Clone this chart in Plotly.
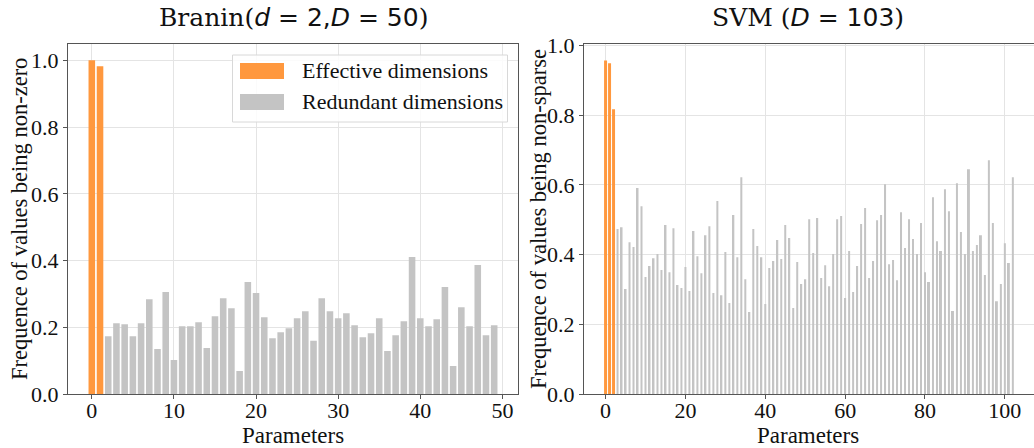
import plotly.graph_objects as go

# ---------------- data ----------------
branin_eff_x = [0, 1]
branin_eff_y = [1.0, 0.982]
branin_red_x = list(range(2, 50))
branin_red_y = [0.174, 0.213, 0.210, 0.174, 0.213, 0.285, 0.136, 0.306, 0.103, 0.204,
                0.204, 0.216, 0.139, 0.234, 0.288, 0.258, 0.070, 0.336, 0.303, 0.231,
                0.168, 0.186, 0.198, 0.228, 0.249, 0.160, 0.288, 0.249, 0.228, 0.243,
                0.207, 0.171, 0.183, 0.228, 0.130, 0.177, 0.219, 0.411, 0.228, 0.204,
                0.225, 0.321, 0.085, 0.261, 0.204, 0.387, 0.177, 0.207]

svm_eff_x = [0, 1, 2]
svm_eff_y = [0.957, 0.949, 0.817]
svm_red_x = list(range(3, 103))
svm_red_y = [0.474, 0.479, 0.302, 0.436, 0.422, 0.591, 0.539, 0.336, 0.368, 0.390,
             0.402, 0.356, 0.485, 0.350, 0.476, 0.313, 0.305, 0.365, 0.296, 0.468,
             0.396, 0.347, 0.456, 0.482, 0.290, 0.554, 0.284, 0.408, 0.262, 0.514,
             0.393, 0.622, 0.330, 0.236, 0.474, 0.425, 0.393, 0.259, 0.362, 0.382,
             0.442, 0.388, 0.485, 0.448, 0.247, 0.379, 0.316, 0.330, 0.502, 0.405,
             0.505, 0.333, 0.370, 0.310, 0.402, 0.502, 0.511, 0.276, 0.411, 0.293,
             0.368, 0.488, 0.534, 0.333, 0.382, 0.499, 0.514, 0.602, 0.373, 0.385,
             0.327, 0.522, 0.419, 0.502, 0.445, 0.402, 0.491, 0.350, 0.322, 0.565,
             0.439, 0.411, 0.588, 0.525, 0.239, 0.605, 0.465, 0.402, 0.645, 0.411,
             0.428, 0.456, 0.342, 0.671, 0.491, 0.267, 0.316, 0.433, 0.376, 0.622]

branin_xticks = [0, 10, 20, 30, 40, 50]
svm_xticks = [0, 20, 40, 60, 80, 100]
yticks = [0.0, 0.2, 0.4, 0.6, 0.8, 1.0]
legend_labels = ["Effective dimensions", "Redundant dimensions"]

ORANGE = "#ff983e"
GRAY = "#c4c4c4"
SERIF = "Liberation Serif"

W, H = 1034, 448
def px(x):
    return x / W
def py(y):
    return 1 - y / H

fig = go.Figure()
fig.add_trace(go.Bar(x=branin_eff_x, y=branin_eff_y, width=0.8, marker_color=ORANGE,
                     marker_line_width=0, xaxis="x", yaxis="y", showlegend=False))
fig.add_trace(go.Bar(x=branin_red_x, y=branin_red_y, width=0.8, marker_color=GRAY,
                     marker_line_width=0, xaxis="x", yaxis="y", showlegend=False))
fig.add_trace(go.Bar(x=svm_eff_x, y=svm_eff_y, width=0.75, marker_color=ORANGE,
                     marker_line_width=0, xaxis="x2", yaxis="y2", showlegend=False))
fig.add_trace(go.Bar(x=svm_red_x, y=svm_red_y, width=0.5, marker_color=GRAY,
                     marker_line_width=0, xaxis="x2", yaxis="y2", showlegend=False))

ydom = [py(394.3), py(44)]
axis_common = dict(showgrid=True, gridcolor="#e4e4e4", gridwidth=1, zeroline=False,
                   showline=True, linecolor="#555555", linewidth=1.3, mirror=True,
                   ticks="outside", ticklen=4, tickcolor="#555555", automargin=False,
                   tickfont=dict(family=SERIF, size=22, color="#111111"))

fig.update_layout(
    template="none",
    width=W, height=H,
    margin=dict(l=0, r=0, t=0, b=0, pad=0),
    paper_bgcolor="white", plot_bgcolor="white",
    barmode="overlay",
    xaxis=dict(domain=[px(68), px(518)], range=[-2.9, 51.9], tickvals=branin_xticks,
               anchor="y", ticklabelstandoff=-8, **axis_common),
    yaxis=dict(domain=ydom, range=[0, 1.049], tickvals=yticks, tickformat=".1f",
               anchor="x", **axis_common),
    xaxis2=dict(domain=[px(584), 1.0], range=[-5.4, 107.3], tickvals=svm_xticks,
                anchor="y2", ticklabelstandoff=-8, **axis_common),
    yaxis2=dict(domain=ydom, range=[0, 1.004], tickvals=yticks, tickformat=".1f",
                anchor="x2", **axis_common),
)

ann = []
# titles
ann.append(dict(x=px(293), y=py(17), xref="paper", yref="paper", showarrow=False,
                xanchor="center", yanchor="middle",
                text='Branin(<span style="font-family:DejaVu Sans"><i>d</i> = 2,<i>D</i> = 50</span>)',
                font=dict(family="DejaVu Serif", size=25, color="#111111")))
ann.append(dict(x=px(808), y=py(17), xref="paper", yref="paper", showarrow=False,
                xanchor="center", yanchor="middle",
                text='SVM (<span style="font-family:DejaVu Sans"><i>D</i> = 103</span>)',
                font=dict(family="DejaVu Serif", size=25, color="#111111")))
# axis labels
for xc in (293, 808):
    ann.append(dict(x=px(xc), y=py(435), xref="paper", yref="paper", showarrow=False,
                    xanchor="center", yanchor="middle", text="Parameters",
                    font=dict(family=SERIF, size=23, color="#111111")))
ann.append(dict(x=px(19), y=py(219), xref="paper", yref="paper", showarrow=False,
                xanchor="center", yanchor="middle", textangle=-90,
                text="Frequence of values being non-zero",
                font=dict(family=SERIF, size=22.5, color="#111111")))
ann.append(dict(x=px(538), y=py(219), xref="paper", yref="paper", showarrow=False,
                xanchor="center", yanchor="middle", textangle=-90,
                text="Frequence of values being non-sparse",
                font=dict(family=SERIF, size=22.5, color="#111111")))
# legend texts
for lab, yc in zip(legend_labels, (71, 102)):
    ann.append(dict(x=px(300), y=py(yc), xref="paper", yref="paper", showarrow=False,
                    xanchor="left", yanchor="middle", text=lab,
                    font=dict(family=SERIF, size=22, color="#111111")))

shapes = [
    dict(type="rect", xref="paper", yref="paper", x0=px(232.5), x1=px(507.5),
         y0=py(122), y1=py(55), fillcolor="rgba(255,255,255,0.85)",
         line=dict(color="#d8d8d8", width=1), layer="above"),
    dict(type="rect", xref="paper", yref="paper", x0=px(240), x1=px(284),
         y0=py(79), y1=py(63), fillcolor=ORANGE, line=dict(width=0), layer="above"),
    dict(type="rect", xref="paper", yref="paper", x0=px(240), x1=px(284),
         y0=py(110), y1=py(94), fillcolor=GRAY, line=dict(width=0), layer="above"),
]

fig.update_layout(annotations=ann, shapes=shapes)
fig.write_html("out.html", config={"displayModeBar": False},
               post_script="document.body.style.margin='0';document.body.style.overflow='hidden';")
